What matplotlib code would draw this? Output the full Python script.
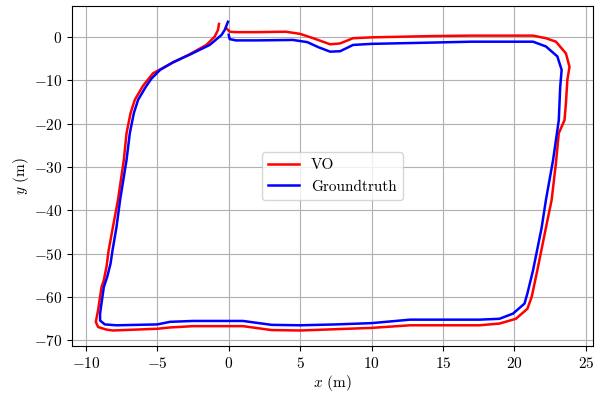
import numpy as np
import matplotlib
matplotlib.use("Agg")
import matplotlib.pyplot as plt

plt.rcParams['font.family'] = 'serif'
plt.rcParams['font.serif'] = ['cmr10']
plt.rcParams['mathtext.fontset'] = 'cm'
plt.rcParams['axes.formatter.use_mathtext'] = True
plt.rcParams['font.size'] = 11

# trajectory points (m)
vo_x = [-0.16, 0.07, 0.5, 2.0, 4.0, 5.0, 6.0, 7.1, 7.8, 8.7, 10.0, 14.3, 17.0, 19.9, 21.3,
        22.2, 22.9, 23.6, 23.85, 23.7, 23.6, 23.5, 23.1, 22.9, 22.6, 22.2, 21.6,
        21.2, 20.9, 20.1, 18.95, 17.55, 15.0, 12.7, 10.0, 7.5, 5.0, 3.0, 1.0, -2.5,
        -4.1, -5.0, -8.1, -8.55, -9.14, -9.3, -9.14, -8.9, -8.74, -8.55, -8.4, -8.1, -7.75,
        -7.34, -7.15, -6.87, -6.57, -6.0, -5.3, -3.9, -2.73, -1.56, -0.98, -0.75, -0.68]
vo_y = [2.0, 1.2, 1.1, 1.1, 1.2, 0.7, -0.4, -1.7, -1.5, -0.3, -0.1, 0.2, 0.3, 0.3, 0.3,
        -0.3, -1.1, -3.8, -6.9, -9.9, -15.3, -19.2, -22.2, -29.1, -37.6, -44.0, -53.8,
        -60.0, -62.7, -65.0, -66.1, -66.5, -66.5, -66.5, -67.1, -67.4, -67.7, -67.6, -66.7,
        -66.7, -67.0, -67.3, -67.7, -67.5, -66.9, -65.7, -63.0, -57.7, -56.1, -53.0, -49.2,
        -43.8, -37.6, -28.4, -22.2, -17.6, -14.5, -11.3, -8.4, -5.9, -4.0, -1.85, 0.07,
        1.6, 3.0]

gt_x = [0.0, 0.07, 0.5, 2.0, 4.5, 5.5, 6.3, 7.1, 7.8, 8.7, 10.0, 14.3, 17.0, 19.0, 21.3,
        22.2, 23.0, 23.3, 23.2, 23.1, 22.7, 22.2, 21.9, 21.3, 20.9, 20.7,
        19.9, 18.95, 17.55, 15.0, 12.7, 10.0, 7.5, 5.0, 3.0, 1.0, -0.1, -2.5, -4.1, -5.0,
        -7.85, -8.67, -9.0, -9.0, -8.74, -8.5, -8.27, -8.13, -7.85, -7.6, -7.15, -6.92,
        -6.64, -6.34, -5.8, -5.4, -4.8, -3.9, -2.73, -1.33, -0.5, -0.28, -0.05]
gt_y = [0.5, -0.5, -0.8, -0.8, -0.7, -1.2, -2.4, -3.4, -3.3, -1.85, -1.6, -1.3, -1.1,
        -1.1, -1.1, -2.2, -4.5, -7.6, -11.5, -19.2, -28.4, -37.6, -44.0,
        -53.8, -59.2, -61.5, -63.8, -65.0, -65.2, -65.2, -65.2, -66.0, -66.3, -66.5, -66.4,
        -65.5, -65.5, -65.5, -65.7, -66.3, -66.5, -66.3, -65.4, -63.8, -57.7, -55.3, -52.3,
        -49.2, -43.8, -37.6, -28.4, -22.2, -17.6, -14.5, -11.5, -9.6, -7.6, -5.85, -4.1,
        -1.85, 0.46, 1.6, 3.5]

fig, ax = plt.subplots(figsize=(6.01, 3.94), dpi=100)
fig.subplots_adjust(left=0.12, right=0.987, top=0.984, bottom=0.122)

ax.plot(vo_x, vo_y, color='red', lw=1.8, label='VO', solid_joinstyle='round')
ax.plot(gt_x, gt_y, color='blue', lw=1.8, label='Groundtruth', solid_joinstyle='round')
ax.grid(True)
ax.set_xlabel('$x$ (m)', labelpad=2)
ax.set_ylabel('$y$ (m)', labelpad=2)
ax.legend(loc='center')

fig.savefig('out.png', dpi=100)
